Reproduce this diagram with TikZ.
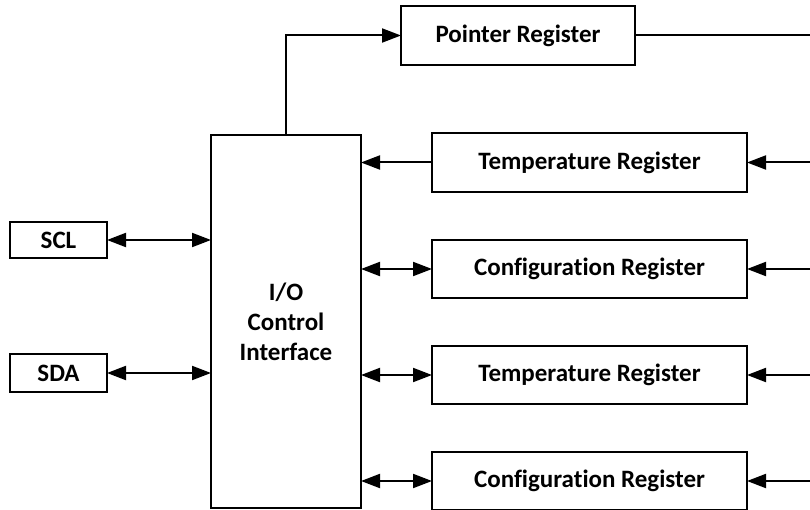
\documentclass[tikz,border=0pt]{standalone}
\usepackage{fontspec}
\setmainfont{Carlito}[RawFeature=-liga]
\usetikzlibrary{arrows.meta}
\tikzset{
  blk/.style={draw=black, line width=2.5pt, fill=white, inner sep=0pt, outer sep=0pt,
    font=\fontsize{25}{30}\selectfont\bfseries, align=center},
  conn/.style={line width=2pt},
  tipped/.style={conn, -{Triangle[length=19pt,width=14pt]}},
  bothtip/.style={conn, {Triangle[length=19pt,width=14pt]}-{Triangle[length=19pt,width=14pt]}}
}
\begin{document}
\begin{tikzpicture}[x=1pt,y=-1pt]
\useasboundingbox (0,0) rectangle (810,510);
\node[blk, minimum width=97pt, minimum height=36pt] (scl) at (58.5,240) {SCL};
\node[blk, minimum width=97pt, minimum height=38pt] (sda) at (58.5,373) {SDA};
\node[blk, minimum width=150pt, minimum height=373pt, font=\fontsize{25}{30}\selectfont\bfseries] (io) at (286,321.5) {I/O\\Control\\Interface};
\node[blk, minimum width=234pt, minimum height=59pt] (ptr) at (518,35.5) {Pointer Register};
\node[blk, minimum width=315pt, minimum height=59pt] (t1) at (589.5,162.5) {Temperature Register};
\node[blk, minimum width=315pt, minimum height=58pt] (c1) at (589.5,269) {Configuration Register};
\node[blk, minimum width=315pt, minimum height=58pt] (t2) at (589.5,375) {Temperature Register};
\node[blk, minimum width=315pt, minimum height=58pt] (c2) at (589.5,481) {Configuration Register};
\coordinate (pe) at (812,35.5);
\coordinate (r1) at (812,162.5);
\coordinate (r2) at (812,269);
\coordinate (r3) at (812,375);
\coordinate (r4) at (812,481);
\draw[tipped] (io.north) |- (ptr.west);
\draw[conn] (ptr.east) -- (pe);
\draw[tipped] (r1) -- (t1.east);
\draw[tipped] (r2) -- (c1.east);
\draw[tipped] (r3) -- (t2.east);
\draw[tipped] (r4) -- (c2.east);
\draw[tipped] (t1.west) -- (t1.west -| io.east);
\draw[bothtip] (c1.west -| io.east) -- (c1.west);
\draw[bothtip] (t2.west -| io.east) -- (t2.west);
\draw[bothtip] (c2.west -| io.east) -- (c2.west);
\draw[bothtip] (scl.east) -- (scl.east -| io.west);
\draw[bothtip] (sda.east) -- (sda.east -| io.west);
\end{tikzpicture}
\end{document}
